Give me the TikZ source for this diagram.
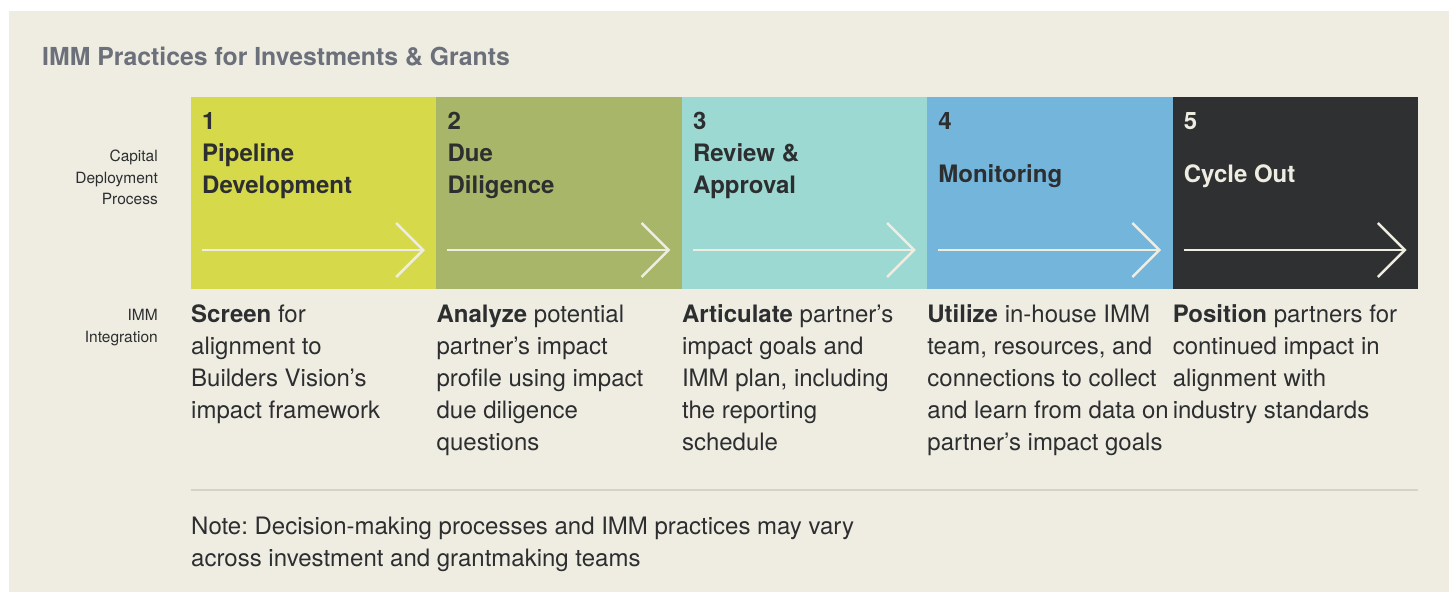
\documentclass[tikz,border=0pt]{standalone}
\usepackage{fontspec}
\setmainfont{TeX Gyre Heros}
\frenchspacing
\usetikzlibrary{calc,arrows.meta}
\definecolor{paper}{HTML}{EFEDE2}
\definecolor{ink}{HTML}{2D2E30}
\definecolor{titlegray}{HTML}{6B707B}
\definecolor{rulegray}{HTML}{D5D3C7}
\definecolor{stA}{HTML}{D6D94A}
\definecolor{stB}{HTML}{A7B668}
\definecolor{stC}{HTML}{9BD9D2}
\definecolor{stD}{HTML}{74B5DC}
\definecolor{stE}{HTML}{2F3032}
% multi-line nodes: the base anchor sits on the last line
\tikzset{
  stagebox/.style={anchor=north west, minimum width=245.4pt, minimum height=192pt,
    inner sep=0pt, outer sep=0pt, draw=none},
  head/.style={anchor=base west, inner sep=0pt, align=left, text=ink,
    font=\fontsize{24}{32}\selectfont\bfseries},
  body/.style={anchor=base west, inner sep=0pt, align=left, text=ink,
    font=\fontsize{24}{32}\selectfont},
  side/.style={anchor=base east, inner sep=0pt, align=right, text=ink,
    font=\fontsize{15.5}{21.5}\selectfont},
  flow/.style={draw=paper, line width=2.5pt, -{Straight Barb[length=27pt, width=54pt]}},
  rule/.style={draw=rulegray, line width=2.5pt},
}
\begin{document}
\begin{tikzpicture}[x=1pt, y=-1pt]
\useasboundingbox (0,0) rectangle (1452,592);
\fill[white] (0,0) rectangle (1452,592);
\fill[paper] (9,11) rectangle (1449,592);

% title
\node[anchor=base west, inner sep=0pt, text=titlegray,
  font=\fontsize{24.8}{30}\selectfont\bfseries] (title) at (42,65)
  {IMM Practices for Investments \& Grants};

% row labels
\node[side] (lab1) at (158,204.5) {Capital\\Deployment\\Process};
\node[side] (lab2) at (158,342) {IMM\\Integration};

% stage boxes
\node[stagebox, fill=stA] (s1) at (191,97) {};
\node[stagebox, fill=stB] (s2) at (436.4,97) {};
\node[stagebox, fill=stC] (s3) at (681.8,97) {};
\node[stagebox, fill=stD] (s4) at (927.2,97) {};
\node[stagebox, fill=stE] (s5) at (1172.6,97) {};

% stage titles
\node[head] (h1) at ($(s1.north west)+(11,96)$) {1\\Pipeline\\Development};
\node[head] (h2) at ($(s2.north west)+(11,96)$) {2\\Due\\Diligence};
\node[head] (h3) at ($(s3.north west)+(11,96)$) {3\\Review \&\\Approval};
\node[head] (h4) at ($(s4.north west)+(11,85)$) {4\\[21pt]Monitoring};
\node[head, text=paper] (h5) at ($(s5.north west)+(11,85)$) {5\\[21pt]Cycle Out};

% flow arrows inside the boxes
\foreach \s in {s1,s2,s3,s4,s5}{
  \coordinate (\s a) at ($(\s.north west)+(11,153)$);
  \coordinate (\s b) at ($(\s.north west)+(234,153)$);
  \draw[flow] (\s a) -- (\s b);
}

% practice descriptions
\node[body] (t1) at ($(s1.south west)+(0,129)$)
  {\textbf{Screen} for\\alignment to\\Builders Vision’s\\impact framework};
\node[body] (t2) at ($(s2.south west)+(0,161)$)
  {\textbf{Analyze} potential\\partner’s impact\\profile using impact\\due diligence\\questions};
\node[body] (t3) at ($(s3.south west)+(0,161)$)
  {\textbf{Articulate} partner’s\\impact goals and\\IMM plan, including\\the reporting\\schedule};
\node[body] (t4) at ($(s4.south west)+(0,161)$)
  {\textbf{Utilize} in-house IMM\\team, resources, and\\connections to collect\\and learn from data on\\partner’s impact goals};
\node[body] (t5) at ($(s5.south west)+(0,129)$)
  {\textbf{Position} partners for\\continued impact in\\alignment with\\industry standards};

% separator and note
\coordinate (r0) at (191,490);
\coordinate (r1) at (1418,490);
\draw[rule] (r0) -- (r1);
\node[body] (note) at (191,566)
  {Note: Decision-making processes and IMM practices may vary\\across investment and grantmaking teams};
\end{tikzpicture}
\end{document}
